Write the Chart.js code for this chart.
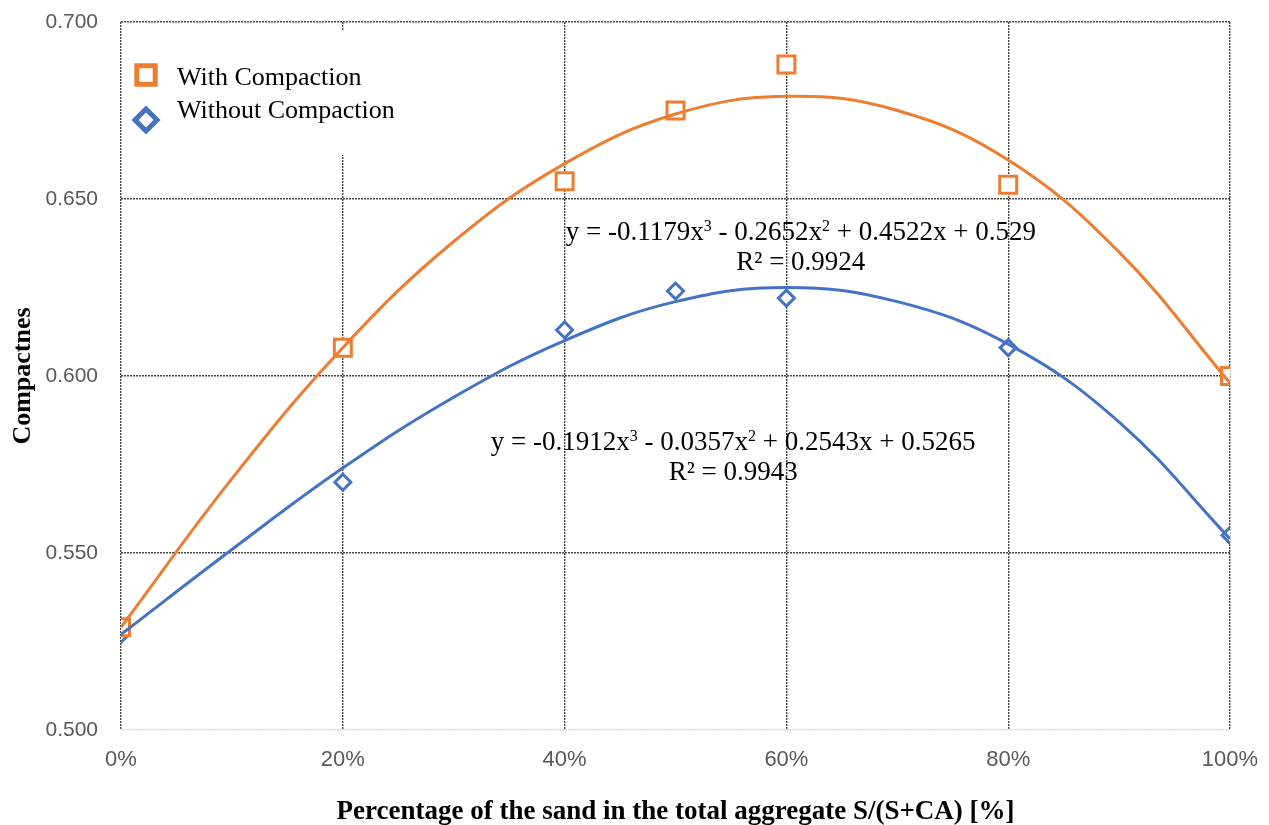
<!DOCTYPE html>
<html>
<head>
<meta charset="utf-8">
<script src="https://cdn.jsdelivr.net/npm/chart.js"></script>
<style>
  html, body { margin: 0; padding: 0; background: #fff; }
  #wrap { width: 1269px; height: 825px; }
</style>
</head>
<body>
<div id="wrap"><canvas id="chart" width="1269" height="825"></canvas></div>
<script>
// measured points
const sandPct = [0, 20, 40, 50, 60, 80, 100];
const withCompaction = [0.529, 0.608, 0.655, 0.675, 0.688, 0.654, 0.600];
const withoutCompaction = [0.527, 0.570, 0.613, 0.624, 0.622, 0.608, 0.555];

// trend lines every 10%
const trendPct = [0, 10, 20, 30, 40, 50, 60, 70, 80, 90, 100];
const trendWith = [0.529, 0.571, 0.608, 0.638, 0.660, 0.674, 0.679, 0.675, 0.661, 0.635, 0.598];
const trendWithout = [0.527, 0.551, 0.574, 0.594, 0.610, 0.621, 0.625, 0.621, 0.609, 0.587, 0.554];

const seriesNames = ['With Compaction', 'Without Compaction'];
const yTicks = [0.5, 0.55, 0.6, 0.65, 0.7];

const ORANGE = '#ED7D31';
const BLUE = '#4472C4';
const GRID = 'rgba(50,50,50,0.9)';
const SERIF = '"Liberation Serif", "Times New Roman", serif';
const SANS = '"Liberation Sans", Arial, sans-serif';

const pts = (xs, ys) => xs.map((x, i) => ({ x: x, y: ys[i] }));

// equation labels, y is the text baseline
const equations = [
    { parts: [['y = -0.1179x'], ['3', 1], [' - 0.2652x'], ['2', 1], [' + 0.4522x + 0.529']], x: 61.3, y: 0.6384 },
    { parts: [['R² = 0.9924']], x: 61.3, y: 0.6299 },
    { parts: [['y = -0.1912x'], ['3', 1], [' - 0.0357x'], ['2', 1], [' + 0.2543x + 0.5265']], x: 55.2, y: 0.5791 },
    { parts: [['R² = 0.9943']], x: 55.2, y: 0.5706 }
];

const overlay = {
    id: 'overlay',
    afterDatasetsDraw(chart) {
        const ctx = chart.ctx;
        const xs = chart.scales.x, ys = chart.scales.y;
        const area = chart.chartArea;
        ctx.save();

        // equations
        ctx.fillStyle = '#000';
        ctx.textBaseline = 'alphabetic';
        ctx.textAlign = 'left';
        const big = '27px ' + SERIF, small = '16px ' + SERIF;
        equations.forEach(eq => {
            let w = 0;
            eq.parts.forEach(p => { ctx.font = p[1] ? small : big; w += ctx.measureText(p[0]).width; });
            let x = xs.getPixelForValue(eq.x) - w / 2;
            const y = ys.getPixelForValue(eq.y);
            eq.parts.forEach(p => {
                ctx.font = p[1] ? small : big;
                ctx.fillText(p[0], x, p[1] ? y - 9 : y);
                x += ctx.measureText(p[0]).width;
            });
        });

        // legend box
        ctx.fillStyle = '#fff';
        ctx.fillRect(area.left + 2, 31, 290, 124);
        const items = [
            { name: seriesNames[0], color: ORANGE, style: 'rect', r: 13, y: 75, ty: 78 },
            { name: seriesNames[1], color: BLUE, style: 'rectRot', r: 11, y: 120, ty: 111 }
        ];
        items.forEach(it => {
            ctx.strokeStyle = it.color;
            ctx.fillStyle = '#fff';
            ctx.lineWidth = 5;
            Chart.helpers.drawPoint(ctx, { pointStyle: it.style, radius: it.r, borderWidth: 5 }, 146, it.y);
            ctx.fillStyle = '#000';
            ctx.font = '26px ' + SERIF;
            ctx.textBaseline = 'middle';
            ctx.fillText(it.name, 177, it.ty);
        });
        ctx.restore();
    }
};

new Chart(document.getElementById('chart').getContext('2d'), {
    type: 'scatter',
    data: {
        datasets: [
            {
                label: seriesNames[0] + ' trend', data: pts(trendPct, trendWith),
                showLine: true, borderColor: ORANGE, borderWidth: 3, pointRadius: 0, tension: 0.4, order: 1
            },
            {
                label: seriesNames[1] + ' trend', data: pts(trendPct, trendWithout),
                showLine: true, borderColor: BLUE, borderWidth: 3, pointRadius: 0, tension: 0.4, order: 1
            },
            {
                label: seriesNames[0], data: pts(sandPct, withCompaction),
                pointStyle: 'rect', pointRadius: 12, pointBorderWidth: 3,
                borderColor: ORANGE, backgroundColor: '#fff', order: 2
            },
            {
                label: seriesNames[1], data: pts(sandPct, withoutCompaction),
                pointStyle: 'rectRot', pointRadius: 8, pointBorderWidth: 3,
                borderColor: BLUE, backgroundColor: '#fff', order: 2
            }
        ]
    },
    options: {
        responsive: false,
        animation: false,
        layout: { padding: { top: 22, right: 39, left: 0, bottom: 0 } },
        plugins: {
            legend: { display: false },
            tooltip: { enabled: false }
        },
        scales: {
            x: {
                type: 'linear', min: 0, max: 100,
                afterFit: s => { s.height = 95; s.paddingLeft = 0; s.paddingRight = 0; },
                border: { display: false, dash: [2, 1] },
                grid: { color: GRID, lineWidth: 1.4, drawTicks: false },
                ticks: { stepSize: 20, padding: 17, color: '#595959', font: { family: SANS, size: 22 }, callback: v => v + '%' },
                title: {
                    display: true, text: 'Percentage of the sand in the total aggregate S/(S+CA) [%]',
                    color: '#000', font: { family: SERIF, size: 27, weight: 'bold' }, padding: { top: 0, bottom: -3 }
                }
            },
            y: {
                min: 0.5, max: 0.7,
                afterFit: s => { s.width = 121; s.paddingTop = 0; s.paddingBottom = 0; },
                afterBuildTicks: s => { s.ticks = yTicks.map(v => ({ value: v })); },
                border: { display: false, dash: [2, 1] },
                grid: {
                    color: c => (c.tick && c.tick.value === 0.5) ? '#d9d9d9' : GRID,
                    lineWidth: 1.4, drawTicks: false
                },
                ticks: { padding: 23, color: '#595959', font: { family: SANS, size: 21 }, callback: v => Number(v).toFixed(3) },
                title: {
                    display: true, text: 'Compactnes',
                    color: '#000', font: { family: SERIF, size: 26, weight: 'bold' }, padding: { top: 8, bottom: 0 }
                }
            }
        }
    },
    plugins: [overlay]
});
</script>
</body>
</html>
